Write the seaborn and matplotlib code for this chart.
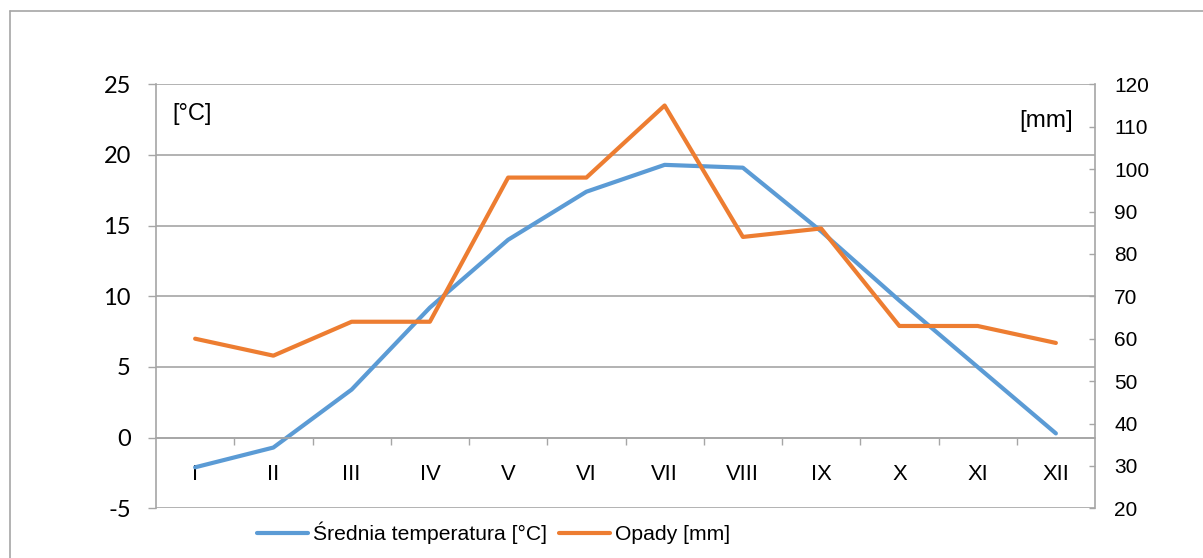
import matplotlib
matplotlib.use("Agg")
import matplotlib.pyplot as plt
import seaborn as sns
import pandas as pd
from matplotlib.lines import Line2D
from matplotlib.ticker import FixedLocator

months = ["I", "II", "III", "IV", "V", "VI", "VII", "VIII", "IX", "X", "XI", "XII"]
temperature = [-2.1, -0.7, 3.4, 9.2, 14.0, 17.4, 19.3, 19.1, 14.6, 9.7, 5.0, 0.3]
precipitation = [60, 56, 64, 64, 98, 98, 115, 84, 86, 63, 63, 59]
temp_ticks = [-5, 0, 5, 10, 15, 20, 25]
prec_ticks = [20, 30, 40, 50, 60, 70, 80, 90, 100, 110, 120]
temp_label = "Średnia temperatura [°C]"
prec_label = "Opady [mm]"

df = pd.DataFrame({"month": months, "temp": temperature, "prec": precipitation})

sns.set_style("white")
plt.rcParams["text.color"] = "black"
plt.rcParams["xtick.labelcolor"] = "black"
plt.rcParams["ytick.labelcolor"] = "black"

W, H = 1203, 558
fig = plt.figure(figsize=(W / 100, H / 100), dpi=100)
L, R, T, B = 156, 1095, 84.3, 508.3
ax = fig.add_axes([L / W, (H - B) / H, (R - L) / W, (B - T) / H])
ax2 = ax.twinx()

BLUE = "#5B9BD5"
ORANGE = "#ED7D31"
GRAY = "#A6A6A6"
ARIAL = "Liberation Sans"
CAL = "Lato"

sns.lineplot(data=df, x="month", y="temp", ax=ax, color=BLUE, linewidth=3.0,
             sort=False, label=temp_label, legend=False)
sns.lineplot(data=df, x="month", y="prec", ax=ax2, color=ORANGE, linewidth=3.0,
             sort=False, label=prec_label, legend=False)

for a in (ax, ax2):
    a.set_xlim(-0.5, 11.5)
    a.set_xlabel("")
    a.set_ylabel("")
    a.patch.set_visible(False)
    for s in a.spines.values():
        s.set_visible(False)

ax.set_ylim(-5, 25)
ax2.set_ylim(20, 120)

# left axis
ax.yaxis.set_major_locator(FixedLocator(temp_ticks))
ax.set_yticklabels([str(v) for v in temp_ticks], fontfamily=CAL, fontsize=17, color="black")
ax.tick_params(axis="y", direction="out", length=5.8, width=1, color=GRAY, pad=12.3,
               left=True, labelleft=True, labelcolor="black")
ax.spines["left"].set_visible(True)
ax.spines["left"].set_color(GRAY)
ax.spines["left"].set_linewidth(1.2)
ax.yaxis.grid(True, color=GRAY, linewidth=1.2)
ax.xaxis.grid(False)
ax.set_axisbelow(True)

# category axis at y = 0
ax.spines["bottom"].set_visible(True)
ax.spines["bottom"].set_position(("data", 0))
ax.spines["bottom"].set_color(GRAY)
ax.spines["bottom"].set_linewidth(1.2)
ax.xaxis.set_major_locator(FixedLocator(list(range(len(months)))))
ax.set_xticklabels(months, fontfamily=ARIAL, fontsize=15.8, color="black")
ax.xaxis.set_minor_locator(FixedLocator([i + 0.5 for i in range(len(months) - 1)]))
ax.tick_params(axis="x", which="major", length=0, pad=19.0, bottom=True, labelcolor="black")
ax.tick_params(axis="x", which="minor", direction="out", length=5, width=1, color=GRAY, bottom=True)

# right axis
ax2.yaxis.set_major_locator(FixedLocator(prec_ticks))
ax2.set_yticklabels([str(v) for v in prec_ticks], fontfamily=ARIAL, fontsize=15, color="black")
ax2.tick_params(axis="y", direction="in", length=4.3, width=1, color=GRAY, pad=13.7,
                right=True, labelright=True, left=False, labelleft=False, labelcolor="black")
ax2.spines["right"].set_visible(True)
ax2.spines["right"].set_color(GRAY)
ax2.spines["right"].set_linewidth(1.2)
ax2.grid(False)
ax2.tick_params(axis="x", bottom=False, labelbottom=False, top=False)

# unit labels
ax.text((172 - L) / (R - L), (B - 114.3) / (B - T), "[°C]", transform=ax.transAxes,
        ha="left", va="center", fontfamily=ARIAL, fontsize=17, color="black")
ax.text((1073 - L) / (R - L), (B - 121) / (B - T), "[mm]", transform=ax.transAxes,
        ha="right", va="center", fontfamily=ARIAL, fontsize=17.5, color="black")

# legend
h1, l1 = ax.get_legend_handles_labels()
h2, l2 = ax2.get_legend_handles_labels()
leg = fig.legend(h1 + h2, l1 + l2, loc="center", bbox_to_anchor=(493.5 / W, (H - 532.7) / H),
                 ncol=2, frameon=False, prop={"family": ARIAL, "size": 15.2},
                 handlelength=2.4, handletextpad=0.24, columnspacing=0.56, borderpad=0,
                 borderaxespad=0)
for t in leg.get_texts():
    t.set_color("black")

# outer chart frame
fig.add_artist(Line2D([10 / W, 10 / W], [0, (H - 11.3) / H], transform=fig.transFigure,
                      color=GRAY, linewidth=1.2))
fig.add_artist(Line2D([10 / W, 1], [(H - 11.3) / H, (H - 11.3) / H], transform=fig.transFigure,
                      color=GRAY, linewidth=1.2))

fig.savefig("out.png", dpi=100)
